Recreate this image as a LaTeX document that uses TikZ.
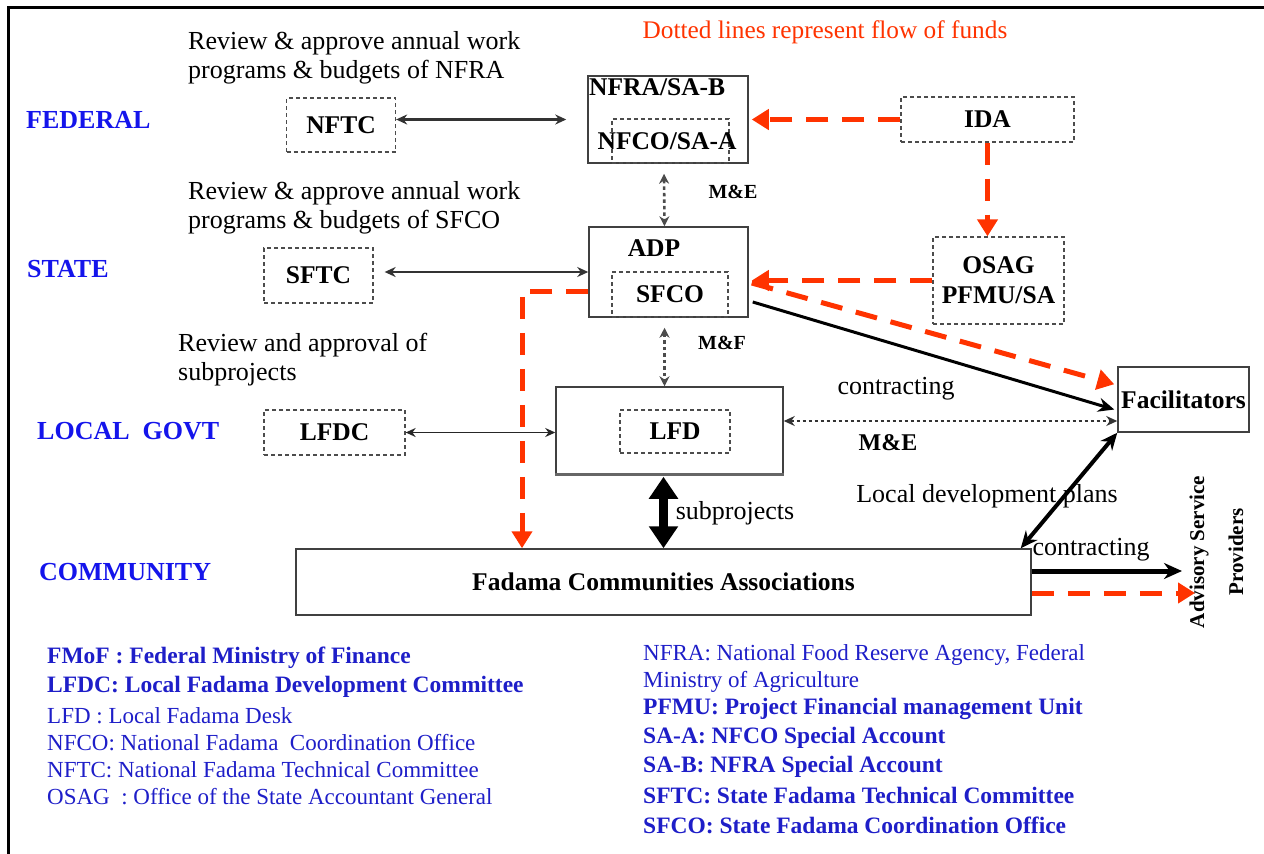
\documentclass[tikz,border=0pt]{standalone}
\usepackage{fontspec}
\setmainfont{Liberation Serif}
\usetikzlibrary{arrows.meta}
\definecolor{fundred}{RGB}{255,51,0}
\definecolor{lvlblue}{RGB}{20,20,235}
\definecolor{legblue}{RGB}{30,30,200}
\tikzset{
  box/.style={draw=black!75, line width=1.5pt, inner sep=0pt},
  dbox/.style={draw=black!70, dash pattern=on 4pt off 3pt, line width=1.3pt, inner sep=0pt},
  lbl/.style={font=\bfseries\fontsize{25.5}{29}\selectfont},
  txt/.style={font=\fontsize{26}{29}\selectfont, inner sep=0pt},
  lvl/.style={font=\bfseries\fontsize{26}{29}\selectfont, text=lvlblue, inner sep=0pt, anchor=west},
  legb/.style={font=\bfseries\fontsize{23.5}{26}\selectfont, text=legblue, inner sep=0pt, anchor=west},
  legs/.style={font=\fontsize{23}{26}\selectfont, text=legblue, inner sep=0pt, anchor=west},
  dbl/.style={{Stealth[length=11pt,width=10pt]}-{Stealth[length=11pt,width=10pt]}, line width=2.4pt, draw=black!80},
  dbls/.style={{Stealth[length=10pt,width=9pt]}-{Stealth[length=10pt,width=9pt]}, line width=1.6pt, draw=black!85},
  dotarr/.style={{Stealth[length=10pt,width=10pt]}-{Stealth[length=10pt,width=10pt]}, dash pattern=on 3.5pt off 3pt, line width=2.6pt, draw=black!70},
  fund/.style={draw=fundred, line width=5pt, dash pattern=on 22pt off 14pt, -{Triangle[length=17pt,width=20pt]}},
}
\begin{document}
\begin{tikzpicture}[x=1pt,y=-1pt]
\useasboundingbox (0,0) rectangle (1264,854);
% frame
\draw[line width=3pt] (8,854) -- (8,7) -- (1264,7);

% title and level labels
\node[font=\fontsize{25.3}{29}\selectfont, inner sep=0pt, text=fundred] (title) at (825,32) {Dotted lines represent flow of funds};
\node[lvl] (federal) at (26,120) {FEDERAL};
\node[lvl] (state) at (27,269) {STATE};
\node[lvl] (local) at (37,431) {LOCAL\ \ GOVT};
\node[lvl] (comm) at (39,572) {COMMUNITY};

% annotation texts
\node[txt, anchor=west, align=left] (rev1) at (188,57.5) {Review \& approve annual work\\programs \& budgets of NFRA};
\node[txt, anchor=west, align=left] (rev2) at (188,208) {Review \& approve annual work\\programs \& budgets of SFCO};
\node[txt, anchor=west, align=left] (rev3) at (178,359.5) {Review and approval of\\subprojects};

% boxes
\node[dbox, lbl, minimum width=109pt, minimum height=54pt] (nftc) at (341,125) {NFTC};
\node[box, minimum width=160pt, minimum height=87pt] (nfra) at (668,119.5) {};
\node[lbl, inner sep=0pt, anchor=west] (nfralbl) at (589,87) {NFRA/SA-B};
\node[dbox, minimum width=117pt, minimum height=44pt] (nfco) at (670.5,141) {};
\node[lbl, inner sep=0pt] (nfcolbl) at (667,141) {NFCO/SA-A};
\node[dbox, lbl, minimum width=173pt, minimum height=45pt] (ida) at (987.5,119.5) {IDA};
\node[dbox, lbl, align=center, minimum width=131pt, minimum height=87pt, font=\bfseries\fontsize{25.5}{30}\selectfont] (osag) at (998.5,280.5) {OSAG\\PFMU/SA};
\node[box, minimum width=159pt, minimum height=90pt] (adp) at (668.5,272) {};
\node[lbl, inner sep=0pt] (adplbl) at (654,248) {ADP};
\node[dbox, lbl, minimum width=116pt, minimum height=45pt] (sfco) at (670,294.5) {SFCO};
\node[dbox, lbl, minimum width=109pt, minimum height=55pt] (sftc) at (318.5,275.5) {SFTC};
\node[box, minimum width=227pt, minimum height=88pt] (lfd) at (669.5,431) {};
\draw[line width=3pt, black!60] ([yshift=1pt]lfd.south west) -- ([yshift=1pt]lfd.south east);
\node[dbox, lbl, minimum width=110pt, minimum height=43pt] (lfdin) at (675,431.5) {LFD};
\node[dbox, lbl, minimum width=141pt, minimum height=45pt] (lfdc) at (334.5,432.5) {LFDC};
\node[box, lbl, minimum width=735pt, minimum height=66pt] (fada) at (663.5,582) {Fadama Communities Associations};
\node[box, lbl, minimum width=131pt, minimum height=65pt] (facil) at (1183.5,399.5) {Facilitators};
\node[inner sep=0pt, rotate=90, font=\bfseries\fontsize{21}{24}\selectfont] (adv1) at (1199,552) {Advisory Service};
\node[inner sep=0pt, rotate=90, font=\bfseries\fontsize{21}{24}\selectfont] (adv2) at (1236,552) {Providers};
\coordinate (asp) at (1182,571);
\coordinate (asp2) at (1195,593);

% connector labels
\node[inner sep=0pt, font=\bfseries\fontsize{20}{24}\selectfont] (me1) at (733,192) {M\&E};
\node[inner sep=0pt, font=\bfseries\fontsize{20}{24}\selectfont] (me2) at (722,343) {M\&F};
\node[lbl, inner sep=0pt, font=\bfseries\fontsize{24}{28}\selectfont] (me3) at (888,443) {M\&E};
\node[txt] (contr1) at (896,389) {contracting};
\node[txt] (subp) at (735,513) {subprojects};
\node[txt] (ldp) at (987,496) {Local development plans};
\node[txt] (contr2) at (1091,550) {contracting};

% black connectors
\draw[dbl] (nftc.east |- nfra.west) -- ([xshift=-21pt]nfra.west);
\draw[dbl] ([xshift=11pt]sftc.east |- adp.west) -- (adp.west);
\draw[dbls] (lfdc.east) -- (lfdc.east -| lfd.west);
\draw[dotarr] ([xshift=-4pt,yshift=-10pt]nfra.south) -- ([xshift=-4pt]adp.north);
\draw[dotarr] ([xshift=-4pt,yshift=-10pt]adp.south) -- ([xshift=-5pt]lfd.north);
\draw[{Stealth[length=11pt,width=10pt]}-{Stealth[length=11pt,width=10pt]}, dash pattern=on 3pt off 3pt, line width=1.6pt, draw=black!80] ([yshift=10pt]lfd.east) -- ([yshift=10pt]lfd.east -| facil.west);
\draw[line width=3pt, -{Stealth[length=16pt,width=14pt]}] ([yshift=-30pt,xshift=4pt]adp.east) -- ([yshift=-10pt,xshift=-3pt]facil.west);
\draw[line width=4pt, {Stealth[length=17pt,width=15pt]}-{Stealth[length=17pt,width=15pt]}] (facil.south west) -- ([xshift=-11pt]fada.north east);
\draw[line width=9pt, {Triangle[length=22pt,width=28pt]}-{Triangle[length=22pt,width=28pt]}] ([xshift=-6pt,yshift=-1pt]lfd.south) -- ([xshift=-6pt]lfd.south |- fada.north);
\draw[line width=5pt, -{Stealth[length=18pt,width=16pt]}] ([yshift=11pt]fada.east) -- (asp);

% fund flows
\draw[fund] (ida.west) -- ([xshift=3pt]nfra.east);
\draw[fund] (ida.south) -- (ida.south |- osag.north);
\draw[fund] (osag.west) -- ([xshift=3pt]osag.west -| adp.east);
\draw[fund] ([yshift=-11pt,xshift=3pt]adp.east) -- ([yshift=-18pt,xshift=-3pt]facil.north west);
\draw[fund] ([yshift=-19pt]adp.west) -| ([xshift=-141.5pt]fada.north);
\draw[fund] ([yshift=-11pt]fada.east) -- (asp2);

% legend
\node[legb] (l1) at (47,658) {FMoF : Federal Ministry of Finance};
\node[legb] (l2) at (47,687) {LFDC: Local Fadama Development Committee};
\node[legs] (l3) at (47,716) {LFD : Local Fadama Desk};
\node[legs] (l4) at (47,743) {NFCO: National Fadama\ \ Coordination Office};
\node[legs] (l5) at (47,770) {NFTC: National Fadama Technical Committee};
\node[legs] (l6) at (47,797) {OSAG\ \ : Office of the State Accountant General};
\node[legs] (r1) at (643,655) {NFRA: National Food Reserve Agency, Federal};
\node[legs] (r2) at (643,682) {Ministry of Agriculture};
\node[legb] (r3) at (643,709) {PFMU: Project Financial management Unit};
\node[legb] (r4) at (643,738) {SA-A: NFCO Special Account};
\node[legb] (r5) at (643,767) {SA-B: NFRA Special Account};
\node[legb] (r6) at (643,796) {SFTC: State Fadama Technical Committee};
\node[legb] (r7) at (643,825) {SFCO: State Fadama Coordination Office};
\end{tikzpicture}
\end{document}
